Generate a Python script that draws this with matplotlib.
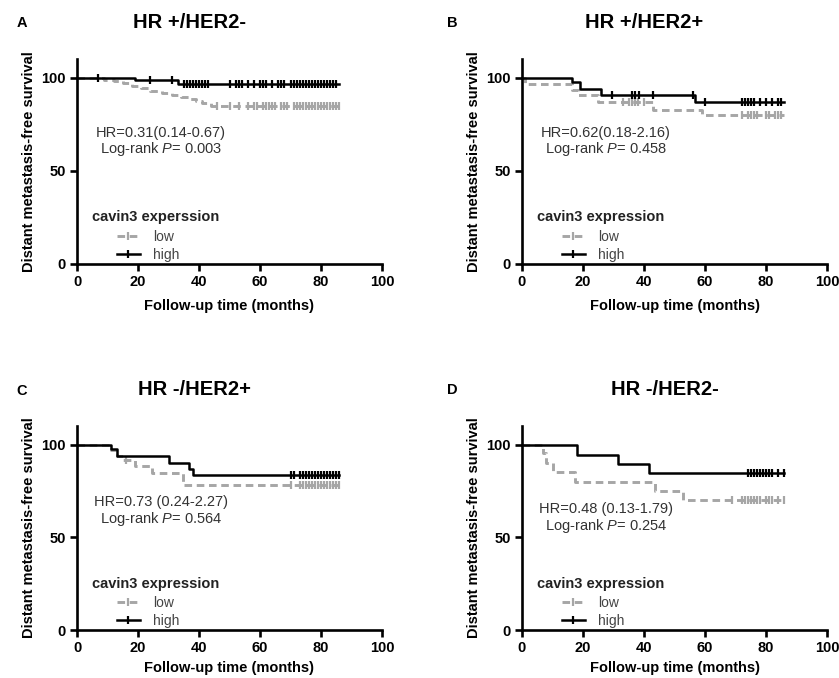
import matplotlib
matplotlib.use("Agg")
import matplotlib.pyplot as plt
from matplotlib.lines import Line2D

plt.rcParams['font.family'] = ['Liberation Sans', 'DejaVu Sans']
plt.rcParams['mathtext.fontset'] = 'custom'
plt.rcParams['mathtext.rm'] = 'Liberation Sans'
plt.rcParams['mathtext.it'] = 'Liberation Sans:italic'

LOW_COLOR = '#a6a6a6'
HIGH_COLOR = '#000000'
TEXT_COLOR = '#333333'
LOW_DASH = (0, (2.6, 1.6))

# --- data ---
panel_letters = ['A', 'B', 'C', 'D']
panel_titles = ['HR +/HER2-', 'HR +/HER2+', 'HR -/HER2+', 'HR -/HER2-']
hr_texts = ['HR=0.31(0.14-0.67)', 'HR=0.62(0.18-2.16)',
            'HR=0.73 (0.24-2.27)', 'HR=0.48 (0.13-1.79)']
p_values = ['0.003', '0.458', '0.564', '0.254']
legend_titles = ['cavin3 experssion', 'cavin3 expression',
                 'cavin3 expression', 'cavin3 expression']

# low expression: event times, survival after each step, censor times
low_times_a = [0, 9, 12, 15, 18, 21, 24, 28, 31, 34, 37, 39, 41, 44]
low_surv_a = [100, 99, 98, 97, 95.5, 94.5, 93, 91.5, 90.5, 89.5, 88.5, 87.5, 86.5, 85]
low_cens_a = [46, 50, 53, 56, 58, 59, 61, 62, 63, 64, 65, 67, 68, 69, 71, 72, 73, 74,
              75, 76, 77, 78, 79, 80, 81, 82, 83, 84, 85, 86]
high_times_a = [0, 19, 33]
high_surv_a = [100, 99, 96.8]
high_cens_a = [7, 24, 31, 35, 36, 37, 38, 39, 40, 41, 42, 43, 50, 52, 53, 54, 56, 58,
               60, 61, 62, 64, 66, 67, 68, 70, 71, 72, 73, 74, 75, 76, 77, 78, 79, 80,
               81, 82, 83, 84, 85]

low_times_b = [0, 1, 16.3, 18.5, 25, 43, 59]
low_surv_b = [100, 96.8, 93.5, 90.9, 86.7, 82.4, 79.7]
low_cens_b = [33, 35, 36, 37, 38, 40, 72, 74, 75, 76, 77, 80, 81, 83, 84, 85]
high_times_b = [0, 16.3, 19, 26, 56.7]
high_surv_b = [100, 97.5, 94, 90.9, 87]
high_cens_b = [29.4, 36, 37, 38.5, 43, 56, 60, 72, 73, 74, 75, 76, 78, 80, 82, 84, 85]

low_times_c = [0, 11, 13, 15, 19, 24.5, 34.8]
low_surv_c = [100, 97, 94, 91.5, 88.3, 84.7, 78.4]
low_cens_c = [16, 70, 73, 74, 75, 76, 77, 78, 79, 80, 81, 82, 83, 84, 85, 86]
high_times_c = [0, 11, 13, 30, 36.6, 38]
high_surv_c = [100, 97.5, 93.7, 90.1, 86.8, 83.4]
high_cens_c = [70, 71, 73, 74, 75, 76, 77, 78, 79, 80, 81, 82, 83, 84, 85, 86]

low_times_d = [0, 7, 8, 10.3, 17.4, 43.6, 52.9]
low_surv_d = [100, 95.5, 90.1, 85, 79.8, 75, 70.3]
low_cens_d = [69, 72, 73, 74, 75, 76, 77, 78, 80, 81, 82, 84, 86]
high_times_d = [0, 17.9, 31.6, 41.7]
high_surv_d = [100, 94.6, 89.5, 84.4]
high_cens_d = [74, 75, 76, 77, 78, 79, 80, 81, 82, 84, 86]

end_times = [86, 86, 86, 86]

low_groups = [(low_times_a, low_surv_a, low_cens_a), (low_times_b, low_surv_b, low_cens_b),
              (low_times_c, low_surv_c, low_cens_c), (low_times_d, low_surv_d, low_cens_d)]
high_groups = [(high_times_a, high_surv_a, high_cens_a), (high_times_b, high_surv_b, high_cens_b),
               (high_times_c, high_surv_c, high_cens_c), (high_times_d, high_surv_d, high_cens_d)]

x_ticks = [0, 20, 40, 60, 80, 100]
y_ticks = [0, 50, 100]

# layout (figure fractions) and per-panel title / text placement
W, H = 839, 678
axes_rects = [(77 / W, 1 - 264 / H, 305 / W, 205 / H),
              (522 / W, 1 - 264 / H, 305 / W, 205 / H),
              (77 / W, 1 - 630 / H, 305 / W, 204 / H),
              (522 / W, 1 - 630 / H, 305 / W, 204 / H)]
title_x = [0.37, 0.40, 0.385, 0.47]
letter_pos = [(22 / W, 1 - 23 / H), (452 / W, 1 - 23 / H),
              (22 / W, 1 - 391 / H), (452 / W, 1 - 390 / H)]
hr_y = [70.5, 70.5, 69, 65]
xlabel_pad = [7, 7, 4.5, 4.5]


def step_xy(times, surv, t_end):
    xs = list(times) + [t_end]
    ys = list(surv) + [surv[-1]]
    return xs, ys


def surv_at(times, surv, t):
    val = surv[0]
    for ti, si in zip(times, surv):
        if ti <= t:
            val = si
    return val


fig = plt.figure(figsize=(W / 100, H / 100), dpi=100)

for i in range(4):
    ax = fig.add_axes(axes_rects[i])

    for (times, surv, cens), color, ls, lw, z in [
            (low_groups[i], LOW_COLOR, LOW_DASH, 2.1, 2),
            (high_groups[i], HIGH_COLOR, '-', 1.8, 3)]:
        xs, ys = step_xy(times, surv, end_times[i])
        ax.step(xs, ys, where='post', color=color, linestyle=ls, linewidth=lw,
                zorder=z, clip_on=False)
        cy = [surv_at(times, surv, c) for c in cens]
        ax.plot(cens, cy, linestyle='none', marker='|', markersize=5.5,
                markeredgewidth=1.6, color=color, zorder=z, clip_on=False)

    ax.set_xlim(0, 100)
    ax.set_ylim(0, 110)
    ax.set_xticks(x_ticks)
    ax.set_yticks(y_ticks)
    for s in ['top', 'right']:
        ax.spines[s].set_visible(False)
    for s in ['left', 'bottom']:
        ax.spines[s].set_linewidth(1.9)
    ax.tick_params(axis='both', direction='out', length=5, width=1.9,
                   labelsize=10.5, pad=3)
    for lab in ax.get_xticklabels() + ax.get_yticklabels():
        lab.set_fontweight('bold')

    ax.set_xlabel('Follow-up time (months)', fontsize=10.5, fontweight='bold',
                  labelpad=xlabel_pad[i])
    ax.set_ylabel('Distant metastasis-free survival', fontsize=10.5,
                  fontweight='bold', labelpad=4)

    ax.text(title_x[i], 1 + 37 / 205, panel_titles[i], transform=ax.transAxes,
            ha='center', va='center', fontsize=14.5, fontweight='bold')
    fig.text(letter_pos[i][0], letter_pos[i][1], panel_letters[i], ha='center',
             va='center', fontsize=10.5, fontweight='bold')

    ax.text(27.5, hr_y[i], hr_texts[i], ha='center', va='center',
            fontsize=10.5, color=TEXT_COLOR)
    ax.text(27.5, hr_y[i] - 9, 'Log-rank $P$= ' + p_values[i], ha='center',
            va='center', fontsize=10.5, color=TEXT_COLOR)

    ax.text(0.05, 25 / 110, legend_titles[i], transform=ax.transAxes, ha='left',
            va='center', fontsize=10.5, fontweight='bold', color='#222222')
    handles = [Line2D([], [], color=LOW_COLOR, linestyle=LOW_DASH, linewidth=2.1,
                      marker='|', markersize=5.5, markeredgewidth=1.6),
               Line2D([], [], color=HIGH_COLOR, linewidth=1.8,
                      marker='|', markersize=5.5, markeredgewidth=1.6)]
    ax.legend(handles, ['low', 'high'], loc='upper left', bbox_to_anchor=(0.13, 0.165),
              frameon=False, fontsize=10, numpoints=1, handlelength=1.7,
              handletextpad=0.9, labelspacing=0.25, borderpad=0, borderaxespad=0,
              labelcolor='#444444')

fig.savefig('out.png', dpi=100)
